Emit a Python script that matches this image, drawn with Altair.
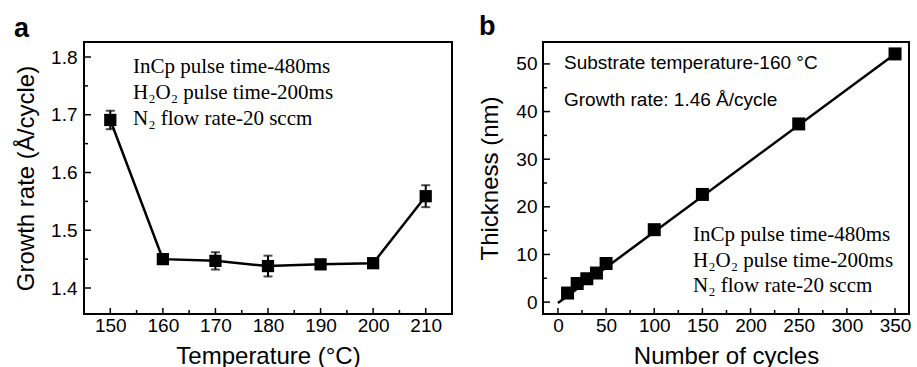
import altair as alt
import pandas as pd

# ---------------- data ----------------
temp = [150, 160, 170, 180, 190, 200, 210]
rate = [1.691, 1.450, 1.447, 1.438, 1.441, 1.443, 1.559]
rate_err = [0.016, 0.005, 0.015, 0.018, 0.007, 0.004, 0.019]

cycles = [10, 20, 30, 40, 50, 100, 150, 250, 350]
thick = [1.9, 3.9, 4.9, 6.1, 8.1, 15.2, 22.6, 37.4, 52.1]
fit_cycles = [0, 350]
fit_thick = [-0.2, 52.1]

a_xticks = [150, 160, 170, 180, 190, 200, 210]
a_xminor = [155, 165, 175, 185, 195, 205]
a_yticks = [1.4, 1.5, 1.6, 1.7, 1.8]
a_yminor = [1.45, 1.55, 1.65, 1.75]
b_xticks = [0, 50, 100, 150, 200, 250, 300, 350]
b_xminor = [25, 75, 125, 175, 225, 275, 325]
b_yticks = [0, 10, 20, 30, 40, 50]
b_yminor = [5, 15, 25, 35, 45]

a_notes = ["InCp pulse time-480ms", "H₂O₂ pulse time-200ms", "N₂ flow rate-20 sccm"]
b_notes_sans = ["Substrate temperature-160 °C", "Growth rate: 1.46 Å/cycle"]
b_notes_serif = ["InCp pulse time-480ms", "H₂O₂ pulse time-200ms", "N₂ flow rate-20 sccm"]

SANS = "Liberation Sans"
SERIF = "Liberation Serif"

AW, AH = 368, 272
BW, BH = 366, 272

# ---------------- panel a ----------------
da = pd.DataFrame({"t": temp, "r": rate,
                   "lo": [r - e for r, e in zip(rate, rate_err)],
                   "hi": [r + e for r, e in zip(rate, rate_err)]})
ax_x = alt.X("t:Q", scale=alt.Scale(domain=[145, 215], nice=False, zero=False),
             axis=alt.Axis(values=a_xticks, title="Temperature (°C)", ticks=False, domain=False,
                           grid=False, labelPadding=2, titlePadding=9, format="d"))
ax_y = alt.Y("r:Q", scale=alt.Scale(domain=[1.355, 1.826], nice=False, zero=False),
             axis=alt.Axis(values=a_yticks, title="Growth rate (Å/cycle)", ticks=False, domain=False,
                           grid=False, labelPadding=7, titlePadding=12, format=".1f"))
base_a = alt.Chart(da)
a_line = base_a.mark_line(color="black", strokeWidth=2.5).encode(x=ax_x, y=ax_y)
a_err = base_a.mark_rule(color="black", strokeWidth=2).encode(x="t:Q", y="lo:Q", y2="hi:Q")
a_cap_lo = base_a.mark_tick(color="black", orient="horizontal", size=9, thickness=2).encode(x="t:Q", y="lo:Q")
a_cap_hi = base_a.mark_tick(color="black", orient="horizontal", size=9, thickness=2).encode(x="t:Q", y="hi:Q")
a_pts = base_a.mark_point(shape="square", filled=True, color="black", size=150, opacity=1).encode(x="t:Q", y="r:Q")

def xticks(vals, length, h):
    return alt.Chart(pd.DataFrame({"v": vals})).mark_rule(color="black", strokeWidth=1.5).encode(
        x="v:Q", y=alt.value(h), y2=alt.value(h - length))

def yticks(vals, length):
    return alt.Chart(pd.DataFrame({"v": vals})).mark_rule(color="black", strokeWidth=1.5).encode(
        y="v:Q", x=alt.value(0), x2=alt.value(length))

def note(text, x, y, font, size, weight="normal"):
    return alt.Chart(pd.DataFrame({"s": [text]})).mark_text(
        align="left", baseline="alphabetic", font=font, fontSize=size, fontWeight=weight, color="black"
    ).encode(text="s:N", x=alt.value(x), y=alt.value(y))

a_layers = [a_line, a_err, a_cap_lo, a_cap_hi, a_pts,
            xticks(a_xticks, 6, AH), xticks(a_xminor, 4, AH),
            yticks(a_yticks, 7), yticks(a_yminor, 4)]
for i, s in enumerate(a_notes):
    a_layers.append(note(s, 49, 31 + 26 * i, SERIF, 21))
a_layers.append(note("a", -70, -5, SANS, 27, "bold"))
chart_a = alt.layer(*a_layers).properties(width=AW, height=AH)

# ---------------- panel b ----------------
db = pd.DataFrame({"c": cycles, "th": thick})
dfit = pd.DataFrame({"c": fit_cycles, "th": fit_thick})
bx = alt.X("c:Q", scale=alt.Scale(domain=[-15.5, 364.5], nice=False, zero=False),
           axis=alt.Axis(values=b_xticks, title="Number of cycles", ticks=False, domain=False,
                         grid=False, labelPadding=2, titlePadding=9, format="d"))
by = alt.Y("th:Q", scale=alt.Scale(domain=[-2.5, 54.6], nice=False, zero=False),
           axis=alt.Axis(values=b_yticks, title="Thickness (nm)", ticks=False, domain=False,
                         grid=False, labelPadding=6, titlePadding=13, format="d"))
b_line = alt.Chart(dfit).mark_line(color="black", strokeWidth=2.5).encode(x=bx, y=by)
b_pts = alt.Chart(db).mark_point(shape="square", filled=True, color="black", size=169, opacity=1).encode(
    x="c:Q", y="th:Q")
b_layers = [b_line, b_pts,
            xticks(b_xticks, 6, BH), xticks(b_xminor, 4, BH),
            yticks(b_yticks, 7), yticks(b_yminor, 4)]
for i, s in enumerate(b_notes_sans):
    b_layers.append(note(s, 21, 27 + 37 * i, SANS, 19))
for i, s in enumerate(b_notes_serif):
    b_layers.append(note(s, 150, 199 + 25.5 * i, SERIF, 21))
b_layers.append(note("b", -64, -7, SANS, 27, "bold"))
chart_b = alt.layer(*b_layers).properties(width=BW, height=BH)

chart = alt.hconcat(chart_a, chart_b, spacing=24).properties(
    padding={"left": 13, "top": 12, "right": 0, "bottom": 0}, background="white"
).configure_view(stroke="black", strokeWidth=2).configure_axis(
    labelFont=SANS, labelFontSize=19, labelColor="black",
    titleFont=SANS, titleFontSize=24, titleFontWeight="normal", titleColor="black"
)

chart.save("out.html", embed_options={"renderer": "svg", "actions": False})
